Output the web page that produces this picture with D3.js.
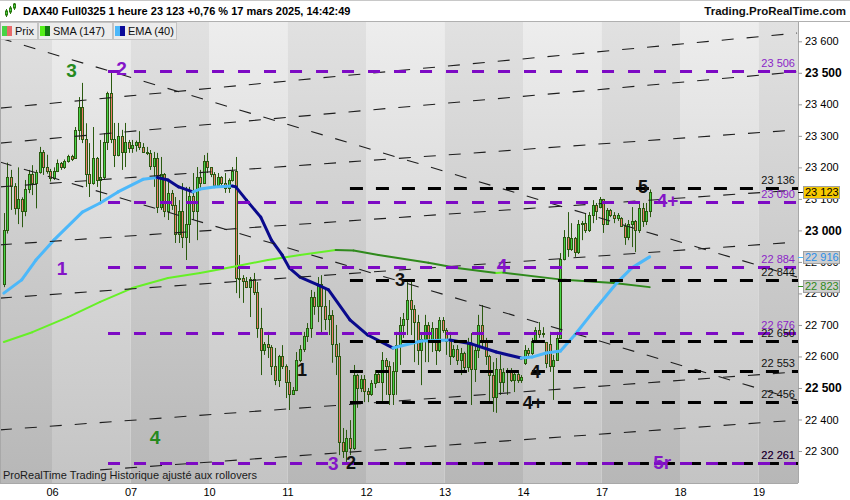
<!DOCTYPE html>
<html><head><meta charset="utf-8">
<script src="https://cdn.jsdelivr.net/npm/d3@7"></script>
<style>body{margin:0;background:#fff;}svg{display:block;font-family:"Liberation Sans",Arial,sans-serif;}</style>
</head><body><svg id="c" width="850" height="500"></svg>
<script>
// ---------- DATA ----------
const days = ["05","06","07","10","11","12","13","14","17","18","19"];
const barsPerDay = 22;
const firstSlot = 8; // first visible hourly bar inside day "05"
// hourly bars [open, high, low, close]
const ohlc = [
// 05
[22830,23055,22820,23000],[23000,23215,22990,23170],[23170,23192,23065,23140],[23140,23150,23050,23070],
[23070,23200,23020,23100],[23100,23105,23010,23060],[23060,23160,23045,23130],[23130,23192,23118,23180],
[23180,23207,23112,23150],[23150,23192,23070,23185],[23185,23265,23180,23250],[23250,23255,23176,23200],
[23200,23240,23180,23190],[23190,23195,23155,23165],
// 06
[23165,23200,23160,23190],[23190,23225,23185,23215],[23215,23217,23192,23200],[23200,23225,23195,23220],
[23220,23240,23215,23235],[23235,23240,23220,23228],[23230,23328,23228,23320],[23320,23423,23287,23390],
[23390,23468,23277,23290],[23290,23340,23138,23180],[23180,23277,23106,23150],[23150,23328,23145,23230],
[23230,23233,23138,23160],[23160,23287,23087,23170],[23170,23309,23160,23280],[23280,23440,23255,23435],
[23435,23503,23277,23290],[23290,23341,23201,23240],[23240,23341,23235,23300],[23300,23319,23192,23250],
[23250,23341,23201,23280],[23280,23287,23246,23260],
// 07
[23260,23287,23246,23270],[23270,23285,23250,23280],[23280,23315,23255,23265],[23265,23277,23246,23250],
[23250,23265,23239,23245],[23245,23255,23192,23205],[23205,23249,23138,23230],[23230,23246,23055,23075],
[23075,23233,23065,23180],[23180,23182,23042,23060],[23060,23160,23033,23120],[23120,23128,23065,23080],
[23080,23106,22960,22990],[22990,23096,22960,23060],[23060,23150,22944,22980],[22980,23138,22906,23020],
[23020,23138,22960,23110],[23110,23182,23033,23060],[23060,23201,22969,23170],[23170,23192,23128,23150],
[23150,23239,23150,23220],[23220,23246,23182,23200],
// 10
[23200,23201,23169,23180],[23180,23185,23138,23145],[23145,23182,23140,23170],[23170,23172,23138,23150],
[23150,23182,23119,23135],[23135,23165,23119,23160],[23160,23201,23155,23190],[23190,23233,22801,22850],
[22850,22922,22785,22850],[22850,22858,22770,22840],[22840,22852,22817,22820],[22820,22852,22725,22845],
[22845,22865,22795,22805],[22805,22836,22659,22690],[22690,22754,22541,22620],[22620,22646,22605,22640],
[22640,22678,22595,22630],[22630,22636,22541,22570],[22570,22627,22509,22525],[22525,22605,22503,22600],
[22600,22636,22560,22570],[22570,22575,22468,22520],
// 11
[22520,22557,22430,22480],[22480,22503,22478,22495],[22495,22614,22490,22590],[22590,22636,22582,22625],
[22625,22678,22614,22665],[22665,22706,22646,22690],[22690,22811,22659,22790],[22790,22805,22732,22760],
[22760,22852,22709,22830],[22830,22858,22668,22760],[22760,22811,22684,22720],[22720,22779,22668,22730],
[22730,22747,22580,22640],[22640,22700,22541,22600],[22600,22643,22287,22330],[22330,22373,22278,22300],
[22300,22367,22258,22340],[22340,22398,22287,22310],[22310,22573,22303,22540],[22540,22545,22437,22500],
[22500,22541,22487,22530],[22530,22541,22455,22490],
// 12
[22490,22500,22455,22480],[22480,22525,22475,22515],[22515,22557,22500,22545],[22545,22547,22516,22520],
[22520,22614,22455,22590],[22590,22595,22478,22570],[22570,22585,22446,22480],[22480,22582,22446,22555],
[22555,22678,22478,22635],[22635,22725,22573,22700],[22700,22738,22659,22720],[22720,22836,22668,22780],
[22780,22845,22668,22750],[22750,22763,22582,22710],[22710,22732,22573,22620],[22620,22668,22509,22655],
[22655,22732,22582,22700],[22700,22709,22582,22650],[22650,22709,22614,22690],[22690,22690,22573,22620],
[22620,22725,22614,22715],[22715,22725,22675,22685],
// 13
[22685,22690,22605,22650],[22650,22678,22573,22600],[22600,22636,22595,22625],[22625,22636,22573,22590],
[22590,22627,22541,22610],[22610,22615,22551,22565],[22565,22659,22551,22640],[22640,22674,22446,22560],
[22560,22636,22519,22620],[22620,22732,22595,22700],[22700,22763,22627,22650],[22650,22659,22573,22600],
[22600,22605,22455,22540],[22540,22582,22424,22470],[22470,22595,22421,22560],[22560,22605,22478,22520],
[22520,22563,22487,22550],[22550,22563,22478,22555],[22555,22563,22519,22525],[22525,22557,22487,22545],
[22545,22551,22516,22525],[22525,22541,22516,22535],
// 14
[22580,22636,22573,22620],[22620,22627,22595,22610],[22610,22659,22605,22650],[22650,22693,22645,22685],
[22685,22709,22659,22670],[22670,22693,22660,22675],[22645,22646,22563,22580],[22640,22678,22551,22570],
[22570,22605,22462,22590],[22590,22678,22590,22660],[22660,22928,22659,22910],[22910,23001,22905,22980],
[22980,23058,22916,22940],[22940,23023,22935,22975],[22975,22979,22916,22930],[22930,23033,22925,23020],
[23020,23030,22969,23025],[23025,23055,22992,23000],[23000,23058,22995,23050],[23050,23096,23023,23080],
[23080,23087,23033,23060],[23075,23106,23070,23100],
// 17
[23100,23100,22992,23020],[23020,23071,23020,23065],[23065,23068,23042,23050],[23050,23058,23023,23040],
[23040,23055,23030,23050],[23040,23042,23011,23015],[23015,23023,22954,22980],[22980,23033,22969,23020],
[23020,23074,22947,23030],[23030,23033,22931,23000],[23000,23087,22992,23070],[23070,23087,23011,23030],
[23030,23087,23017,23060],[23060,23130,23042,23123]
];
// EMA (40): bar index / value
const emaBar = [0,5,9,14,22,27,32,39,43,46,49,53,55,59,64,65,68,72,75,78,80,83,88,91,97,102,109,117,125,131,138,145,148,152,156,160,166,172,176,181];
const emaVal = [22801,22843,22906,22969,23058,23087,23122,23162,23168,23160,23138,23122,23131,23138,23141,23138,23096,23042,22969,22922,22881,22852,22827,22811,22716,22668,22627,22649,22652,22640,22614,22595,22598,22611,22617,22668,22754,22836,22881,22916];
// SMA (147)
const smaBar = [0,8,18,27,36,46,55,64,74,83,93,98,105,119,127,138,140,157,171,181];
const smaVal = [22646,22677,22725,22773,22817,22849,22865,22884,22906,22922,22938,22936,22922,22897,22881,22865,22866,22843,22833,22820];
// horizontal levels
const purpleLevels = [23506,23090,22884,22676,22261];
const purpleFromBar = 29.2;
const blackLevels = [23136,22844,22650,22553,22456,22261];
const blackFromBar = 97;
// trend lines [bar1, price1, bar2, price2]
const trendLines = [
 [-1.1,23388,222.3,23626],[-1.1,23277,222.3,23503],[-1.1,23138,222.3,23319],[-1.1,22954,222.3,23128],
 [-1.1,22785,222.3,22963],[-1.1,22367,222.3,22551],[27,22240,222.3,22398],
 [-1.1,23610,222.3,22852],[-1.1,23217,222.3,22462]
];
// wave labels
const waveText  = ["3","2","1","4","1","3","2","3","4","4","4+","5","4+","5r"];
const waveBar   = [19,33,16.3,42.4,83.6,92.3,97.3,111,139.6,149,148.3,179.1,186,184.5];
const wavePrice = [23509,23515,22881,22344,22557,22262,22262,22843,22890,22551,22455,23138,23096,22265];
const waveKind  = ["g","p","p","g","k","p","k","k","p","k","k","k","p","p"];
const yTicks = [22300,22400,22500,22600,22700,22800,22900,23000,23100,23200,23300,23400,23500,23600];
const lastPrice = 23123, emaLast = 22916, smaLast = 22823;
const title = "DAX40 Full0325 1 heure 23 123 +0,76 % 17 mars 2025, 14:42:49";

// ---------- LAYOUT ----------
const plot = {l:0, r:798, t:22, b:483};
const svg = d3.select("#c");
const y = d3.scaleLinear().domain([22300,23600]).range([451,41.3]);
const slotX = d3.scaleLinear().domain([0, days.length*barsPerDay]).range([-26.5, -26.5 + days.length*78.5]);
const bx = b => slotX(firstSlot + b + 0.5);
const fmt = v => d3.format(",")(v).replace(/,/g," ");

const defs = svg.append("defs");
function grad(id, c1, c2){
  const g = defs.append("linearGradient").attr("id",id).attr("gradientUnits","userSpaceOnUse")
    .attr("x1",0).attr("y1",plot.t).attr("x2",0).attr("y2",plot.b);
  g.append("stop").attr("offset",0).attr("stop-color",c1);
  g.append("stop").attr("offset",1).attr("stop-color",c2);
}
grad("gL","#ededed","#c4c4c4");
grad("gD","#e1e1e1","#b7b7b7");
grad("gH","#ffffff","#eeeeee");
defs.append("clipPath").attr("id","clip").append("rect")
  .attr("x",plot.l).attr("y",plot.t).attr("width",plot.r-plot.l).attr("height",plot.b-plot.t);

// bands
svg.append("g").selectAll("rect").data(days).join("rect")
  .attr("x",(d,i)=>slotX(i*barsPerDay)).attr("y",plot.t)
  .attr("width",(d,i)=>slotX((i+1)*barsPerDay)-slotX(i*barsPerDay)).attr("height",plot.b-plot.t)
  .attr("fill",(d,i)=>i%2===0?"url(#gD)":"url(#gL)");

const P = svg.append("g").attr("clip-path","url(#clip)");

// candles
const cg = P.append("g");
ohlc.forEach((d,i)=>{
  const cx = Math.round(bx(i));
  const up = d[3] >= d[0];
  cg.append("line").attr("x1",cx+0.5).attr("x2",cx+0.5).attr("y1",y(d[1])).attr("y2",y(d[2]))
    .attr("stroke","#2b5a10").attr("stroke-width",1);
  const top = Math.round(y(Math.max(d[0],d[3]))), bot = Math.round(y(Math.min(d[0],d[3])));
  cg.append("rect").attr("x",cx-0.5).attr("y",top+0.5).attr("width",2).attr("height",Math.max(1,bot-top))
    .attr("fill",up?"#46d446":"#ee7c6c").attr("stroke","#2b5a10").attr("stroke-width",1);
});

// moving averages coloured by slope
function maLine(bars, vals, cUp, cDown, w){
  for(let i=0;i<bars.length-1;i++){
    P.append("line").attr("x1",bx(bars[i])).attr("y1",y(vals[i])).attr("x2",bx(bars[i+1])).attr("y2",y(vals[i+1]))
      .attr("stroke", vals[i+1]>=vals[i]?cUp:cDown).attr("stroke-width",w).attr("stroke-linecap","round");
  }
}
maLine(smaBar, smaVal, "#66f026", "#2f8a1c", 2);
maLine(emaBar, emaVal, "#4cb8fa", "#0a0a8c", 3);

// trend lines
P.append("g").selectAll("line").data(trendLines).join("line")
  .attr("x1",d=>bx(d[0])).attr("y1",d=>y(d[1])).attr("x2",d=>bx(d[2])).attr("y2",d=>y(d[3]))
  .attr("stroke","#1e1e1e").attr("stroke-width",1.1).attr("stroke-dasharray","12,13");

// level lines
P.append("g").selectAll("line").data(blackLevels).join("line")
  .attr("x1",bx(blackFromBar)).attr("x2",plot.r).attr("y1",d=>Math.round(y(d))+0.5).attr("y2",d=>Math.round(y(d))+0.5)
  .attr("stroke","#000").attr("stroke-width",3).attr("stroke-dasharray","13,13");
P.append("g").selectAll("line").data(purpleLevels).join("line")
  .attr("x1",bx(purpleFromBar)).attr("x2",plot.r).attr("y1",d=>Math.round(y(d))+0.5).attr("y2",d=>Math.round(y(d))+0.5)
  .attr("stroke","#7d0ac4").attr("stroke-width",3).attr("stroke-dasharray","12,14");

// level labels
const lv = svg.append("g").attr("font-size",11).attr("text-anchor","end");
purpleLevels.forEach(v=>lv.append("text").attr("x",795).attr("y",y(v)-4).attr("fill","#8b1fc8").text(fmt(v)));
blackLevels.forEach(v=>lv.append("text").attr("x",795).attr("y",y(v)-4).attr("fill","#111").text(fmt(v)));

// wave labels
const wcol = {g:"#268a1e", p:"#8414c8", k:"#111"};
const wl = svg.append("g").attr("text-anchor","middle").attr("font-weight","bold");
waveText.forEach((t,i)=>{
  wl.append("text").attr("x",bx(waveBar[i])).attr("y",y(wavePrice[i])).attr("dy","0.36em")
    .attr("font-size",waveKind[i]==="k"?18:19)
    .attr("fill",wcol[waveKind[i]]).text(t);
});

// bottom note
svg.append("text").attr("x",3).attr("y",479).attr("font-size",11).attr("fill","#1a1a1a")
  .text("ProRealTime Trading  Historique ajusté aux rollovers");

// right axis area
svg.append("rect").attr("x",plot.r).attr("y",plot.t).attr("width",850-plot.r).attr("height",plot.b-plot.t).attr("fill","#fff");
svg.append("line").attr("x1",plot.r+0.5).attr("x2",plot.r+0.5).attr("y1",plot.t).attr("y2",plot.b).attr("stroke","#a8a8a8");
const ya = svg.append("g").attr("transform",`translate(${plot.r},0)`)
  .call(d3.axisRight(y).tickValues(yTicks).tickSize(4).tickFormat(fmt));
ya.select(".domain").remove();
ya.selectAll(".tick line").attr("stroke","#999");
ya.selectAll(".tick text").attr("x",7).attr("fill","#000").attr("font-family","Liberation Sans, Arial, sans-serif")
  .attr("font-size",d=>d%500===0?12:11).attr("font-weight",d=>d%500===0?"bold":"normal");

// value boxes
function vbox(v, fill, col, tick){
  const yy = y(v);
  svg.append("line").attr("x1",plot.r).attr("x2",plot.r+5).attr("y1",Math.round(yy)+0.5).attr("y2",Math.round(yy)+0.5).attr("stroke",tick).attr("stroke-width",1);
  svg.append("rect").attr("x",803.5).attr("y",Math.round(yy)-5.5).attr("width",36).attr("height",12)
    .attr("fill",fill).attr("stroke","#a0a0a0");
  svg.append("text").attr("x",805).attr("y",yy).attr("dy","0.36em").attr("font-size",11).attr("fill",col).text(fmt(v));
}
vbox(emaLast,"#cfcfcf","#2a8ee8","#4cb8fa");
vbox(smaLast,"#cfcfcf","#2f8a1c","#2f8a1c");
vbox(lastPrice,"#f7c900","#000","#000");

// x axis
svg.append("rect").attr("x",0).attr("y",plot.b).attr("width",850).attr("height",500-plot.b).attr("fill","#fff");
svg.append("line").attr("x1",0).attr("x2",plot.r).attr("y1",plot.b+0.5).attr("y2",plot.b+0.5).attr("stroke","#a8a8a8");
const xa = svg.append("g").attr("transform",`translate(0,${plot.b})`)
  .call(d3.axisBottom(slotX).tickValues(days.map((d,i)=>i*barsPerDay)).tickFormat((d,i)=>days[i]).tickSize(0));
xa.select(".domain").remove();
xa.selectAll(".tick text").attr("dy","0.95em").attr("font-size",11).attr("fill","#000").attr("font-family","Liberation Sans, Arial, sans-serif");
xa.selectAll(".tick").filter(d=>slotX(d)<5||slotX(d)>plot.r).remove();

// legend tabs
const tabs = [{t:"Prix",x:0,w:37,c1:"#46d446",c2:"#e86a6a"},{t:"SMA (147)",x:38,w:74,c1:"#55f01a",c2:"#127a12"},{t:"EMA (40)",x:113,w:63,c1:"#4cb8fa",c2:"#0a0a9a"}];
const lg = svg.append("g");
tabs.forEach(d=>{
  lg.append("rect").attr("x",d.x+0.5).attr("y",22.5).attr("width",d.w).attr("height",17).attr("fill","#ececec").attr("stroke","#c4c4c4");
  lg.append("rect").attr("x",d.x+2).attr("y",26).attr("width",5).attr("height",10).attr("fill",d.c1);
  lg.append("rect").attr("x",d.x+7).attr("y",26).attr("width",5).attr("height",10).attr("fill",d.c2);
  lg.append("text").attr("x",d.x+15).attr("y",35).attr("font-size",11).attr("fill","#111").text(d.t);
});

// header
svg.append("rect").attr("x",0).attr("y",0).attr("width",850).attr("height",21).attr("fill","url(#gH)");
svg.append("line").attr("x1",0).attr("x2",850).attr("y1",21.5).attr("y2",21.5).attr("stroke","#b0b0b0");
svg.append("line").attr("x1",0).attr("x2",850).attr("y1",0.5).attr("y2",0.5).attr("stroke","#c8c8c8");
const ic = svg.append("g").attr("stroke","#2b7a10");
[[6,9,17,11,15],[10,6,14,8,12],[14,3,10,4,8]].forEach(a=>{
  ic.append("line").attr("x1",a[0]+0.5).attr("x2",a[0]+0.5).attr("y1",a[1]).attr("y2",a[2]);
  ic.append("rect").attr("x",a[0]-0.5).attr("y",a[3]).attr("width",2).attr("height",a[4]-a[3]).attr("fill","#46d446");
});
svg.append("text").attr("x",23).attr("y",15).attr("font-size",11).attr("font-weight","bold").attr("fill","#000").text(title);
svg.append("text").attr("x",846).attr("y",15).attr("text-anchor","end").attr("font-size",11.5).attr("font-weight","bold").attr("fill","#111").text("Trading.ProRealTime.com");
svg.append("line").attr("x1",0.5).attr("x2",0.5).attr("y1",22).attr("y2",plot.b).attr("stroke","#a8a8a8");
</script></body></html>
